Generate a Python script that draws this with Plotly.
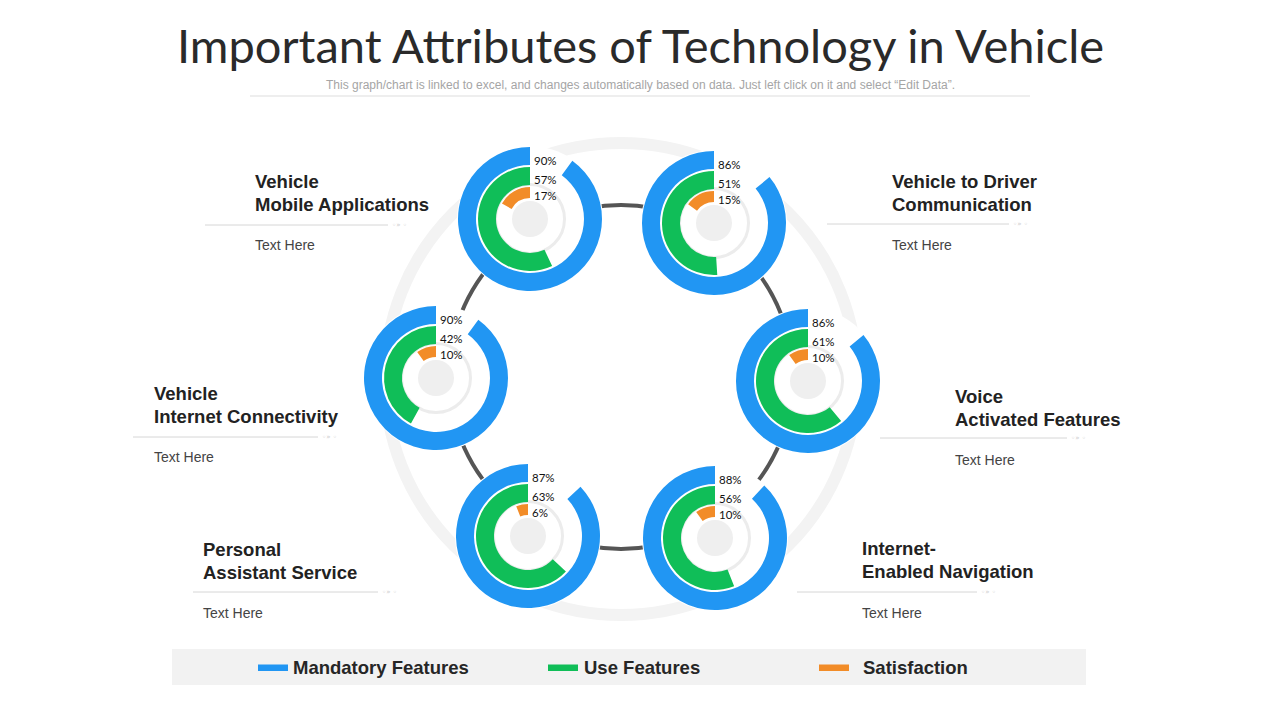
import plotly.graph_objects as go

# ---------------- data ----------------
categories = [
    "Vehicle Mobile Applications",
    "Vehicle to Driver Communication",
    "Voice Activated Features",
    "Internet-Enabled Navigation",
    "Personal Assistant Service",
    "Vehicle Internet Connectivity",
]
category_lines = [
    ("Vehicle", "Mobile Applications"),
    ("Vehicle to Driver", "Communication"),
    ("Voice", "Activated Features"),
    ("Internet-", "Enabled Navigation"),
    ("Personal", "Assistant Service"),
    ("Vehicle", "Internet Connectivity"),
]
mandatory = [90, 86, 86, 88, 87, 90]
use_features = [57, 51, 61, 56, 63, 42]
satisfaction = [17, 15, 10, 10, 6, 10]
series_names = ["Mandatory Features", "Use Features", "Satisfaction"]
desc_text = "Text Here"

title = "Important Attributes of Technology in Vehicle"
subtitle = ("This graph/chart is linked to excel, and changes automatically based on data. "
            "Just left click on it and select \u201cEdit Data\u201d.")

# ---------------- layout / style ----------------
W, H = 1280, 720
colors = ["#2196F3", "#10BE58", "#F28C28"]
centers = [(530, 219), (714, 223), (808, 381), (715, 538), (528, 536), (436, 378)]
ring_radii = [(54, 72), (34, 52), (21, 32)]
label_dy = [-59, -40, -24]
# label block: x text, y line1, y line2, separator y, separator x0, x1, desc y
label_pos = [
    (255, 181, 204, 225, 205, 388, 245),
    (892, 181, 204, 224, 827, 1009, 245),
    (955, 396, 419, 438, 880, 1067, 460),
    (862, 548, 571, 592, 797, 977, 613),
    (203, 549, 572, 592, 193, 378, 613),
    (154, 393, 416, 437, 133, 318, 457),
]
hub = (621, 379)
link_center = (621, 377)

fig = go.Figure()
fig.add_trace(go.Scatter(x=[0, W], y=[0, H], mode="markers",
                         marker=dict(opacity=0), hoverinfo="skip", showlegend=False))


def pdom(cx, cy, r):
    return dict(x=[(cx - r) / W, (cx + r) / W], y=[1 - (cy + r) / H, 1 - (cy - r) / H])


shapes = []
# background light ring
shapes.append(dict(type="circle", xref="x", yref="y", x0=hub[0] - 236, x1=hub[0] + 236,
                   y0=hub[1] - 236, y1=hub[1] + 236, line=dict(color="#f3f3f3", width=12),
                   layer="below"))
# dark connecting circle
shapes.append(dict(type="circle", xref="x", yref="y",
                   x0=link_center[0] - 172, x1=link_center[0] + 172,
                   y0=link_center[1] - 172, y1=link_center[1] + 172,
                   line=dict(color="#555555", width=4), layer="below"))

annotations = []
series = [mandatory, use_features, satisfaction]
for i, (cx, cy) in enumerate(centers):
    # white disc, track ring, grey hub
    shapes.append(dict(type="circle", xref="x", yref="y", x0=cx - 73, x1=cx + 73,
                       y0=cy - 73, y1=cy + 73, fillcolor="white", line=dict(width=0),
                       layer="below"))
    shapes.append(dict(type="circle", xref="x", yref="y", x0=cx - 34.5, x1=cx + 34.5,
                       y0=cy - 34.5, y1=cy + 34.5, line=dict(color="#ececec", width=3),
                       layer="below"))
    shapes.append(dict(type="circle", xref="x", yref="y", x0=cx - 18, x1=cx + 18,
                       y0=cy - 18, y1=cy + 18, fillcolor="#efefef", line=dict(width=0),
                       layer="below"))
    for s, (vals, col, (ri, ro)) in enumerate(zip(series, colors, ring_radii)):
        v = vals[i]
        # empty part first so that the coloured arc runs counter-clockwise from 12 o'clock
        fig.add_trace(go.Pie(
            values=[100 - v, v], labels=["", series_names[s]],
            marker=dict(colors=["rgba(0,0,0,0)", col], line=dict(width=0)),
            hole=ri / ro, domain=pdom(cx, cy, ro), sort=False,
            direction="counterclockwise", rotation=0, textinfo="none",
            hoverinfo="skip", showlegend=False))
        annotations.append(dict(x=cx + 2, y=cy + label_dy[s], xref="x", yref="y",
                                text=f"{v}%", showarrow=False, xanchor="left",
                                yanchor="middle",
                                font=dict(family="Lato", size=11.5, color="#111111")))

# category labels
for (l1, l2), (tx, y1, y2, sy, sx0, sx1, dy) in zip(category_lines, label_pos):
    for txt, yy in ((l1, y1), (l2, y2)):
        annotations.append(dict(x=tx - 2, y=yy, xref="x", yref="y", text=f"<b>{txt}</b>",
                                showarrow=False, xanchor="left", yanchor="middle",
                                font=dict(family="Liberation Sans", size=18.5, color="#222222")))
    shapes.append(dict(type="line", xref="x", yref="y", x0=sx0, x1=sx1, y0=sy, y1=sy,
                       line=dict(color="#d6d6d6", width=1)))
    annotations.append(dict(x=sx1 + 2, y=sy, xref="x", yref="y", text="\u25e6\u00bb \u25e6",
                            showarrow=False, xanchor="left", yanchor="middle",
                            font=dict(family="DejaVu Sans", size=7, color="#cccccc")))
    annotations.append(dict(x=tx - 2, y=dy, xref="x", yref="y", text=desc_text,
                            showarrow=False, xanchor="left", yanchor="middle",
                            font=dict(family="Liberation Sans", size=14, color="#444444")))

# title & subtitle
annotations.append(dict(x=640, y=45, xref="x", yref="y", text=title, showarrow=False,
                        xanchor="center", yanchor="middle",
                        font=dict(family="Lato", size=47, color="#2a2a2a")))
annotations.append(dict(x=640, y=85, xref="x", yref="y", text=subtitle, showarrow=False,
                        xanchor="center", yanchor="middle",
                        font=dict(family="Liberation Sans", size=12, color="#a5a5a5")))
shapes.append(dict(type="line", xref="x", yref="y", x0=250, x1=1030, y0=96, y1=96,
                   line=dict(color="#dddddd", width=1)))

# legend bar
shapes.append(dict(type="rect", xref="x", yref="y", x0=172, x1=1086, y0=649, y1=685,
                   fillcolor="#f2f2f2", line=dict(width=0), layer="below"))
legend_x = [(258, 293), (548, 584), (819, 863)]
for name, col, (sx, tx) in zip(series_names, colors, legend_x):
    shapes.append(dict(type="rect", xref="x", yref="y", x0=sx, x1=sx + 30, y0=664.5,
                       y1=671, fillcolor=col, line=dict(width=0)))
    annotations.append(dict(x=tx - 2, y=667, xref="x", yref="y", text=f"<b>{name}</b>",
                            showarrow=False, xanchor="left", yanchor="middle",
                            font=dict(family="Liberation Sans", size=18.5, color="#262626")))

fig.update_layout(
    width=W, height=H, margin=dict(l=0, r=0, t=0, b=0),
    paper_bgcolor="white", plot_bgcolor="white",
    xaxis=dict(range=[0, W], visible=False, fixedrange=True, domain=[0, 1]),
    yaxis=dict(range=[H, 0], visible=False, fixedrange=True, domain=[0, 1]),
    shapes=shapes, annotations=annotations, showlegend=False,
)

fig.write_html("out.html", config={"displayModeBar": False},
               post_script="document.body.style.margin='0';document.body.style.padding='0';")
